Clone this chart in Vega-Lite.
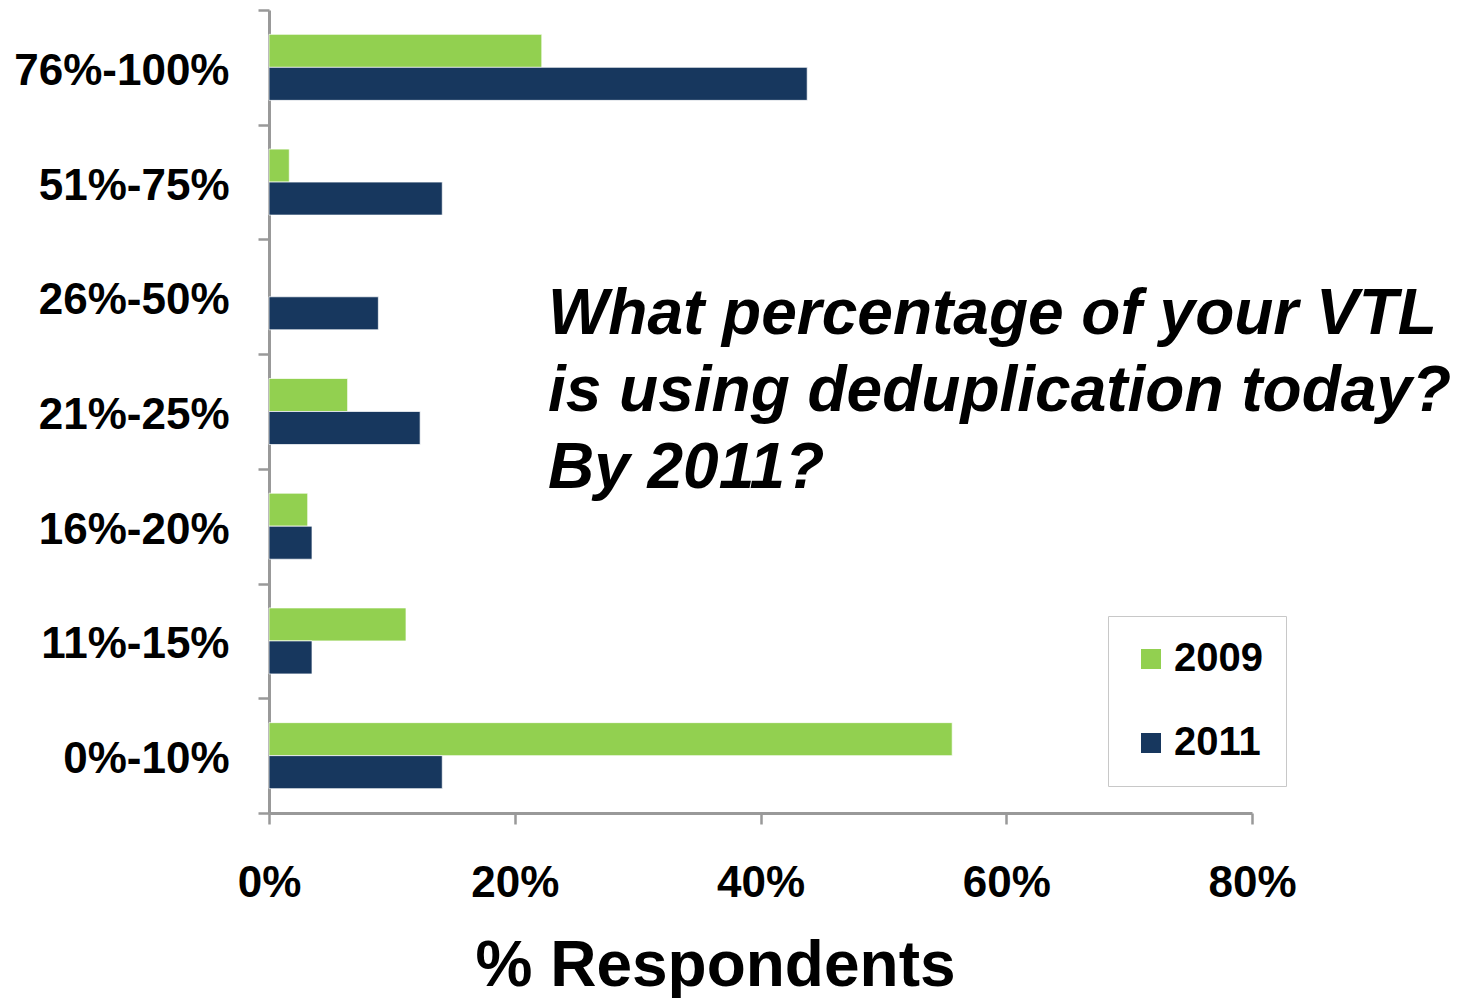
{
  "$schema": "https://vega.github.io/schema/vega-lite/v6.json",
  "width": 983,
  "height": 803,
  "autosize": "none",
  "padding": {"left": 269, "top": 10, "right": 215, "bottom": 185},
  "background": "white",
  "config": {
    "view": {"stroke": null},
    "font": "Liberation Sans",
    "axis": {
      "grid": false,
      "domainColor": "#999999",
      "domainWidth": 3,
      "tickColor": "#999999",
      "tickWidth": 2.5,
      "tickSize": 11,
      "labelFont": "Liberation Sans",
      "labelFontWeight": "bold",
      "labelFontSize": 44,
      "labelColor": "black",
      "labelLimit": 0,
      "titleFont": "Liberation Sans",
      "titleColor": "black"
    }
  },
  "data": {
    "values": [
      {"range": "76%-100%", "year": "2009", "pct": 22.2},
      {"range": "76%-100%", "year": "2011", "pct": 43.8},
      {"range": "51%-75%", "year": "2009", "pct": 1.65},
      {"range": "51%-75%", "year": "2011", "pct": 14.1},
      {"range": "26%-50%", "year": "2011", "pct": 8.9},
      {"range": "21%-25%", "year": "2009", "pct": 6.4},
      {"range": "21%-25%", "year": "2011", "pct": 12.3},
      {"range": "16%-20%", "year": "2009", "pct": 3.15},
      {"range": "16%-20%", "year": "2011", "pct": 3.5},
      {"range": "11%-15%", "year": "2009", "pct": 11.15},
      {"range": "11%-15%", "year": "2011", "pct": 3.5},
      {"range": "0%-10%", "year": "2009", "pct": 55.6},
      {"range": "0%-10%", "year": "2011", "pct": 14.1}
    ]
  },
  "layer": [
    {
      "mark": {"type": "bar", "stroke": "white", "strokeWidth": 1, "strokeOpacity": 0.7},
      "encoding": {
        "y": {
          "field": "range",
          "type": "nominal",
          "sort": ["76%-100%", "51%-75%", "26%-50%", "21%-25%", "16%-20%", "11%-15%", "0%-10%"],
          "scale": {"paddingInner": 0, "paddingOuter": 0},
          "axis": {
            "title": null,
            "tickBand": "extent",
            "labelPadding": 29,
            "labelBaseline": "middle",
            "labelOffset": 4
          }
        },
        "yOffset": {
          "field": "year",
          "type": "nominal",
          "scale": {"domain": ["2009", "2011"], "paddingInner": 0, "paddingOuter": 0.738}
        },
        "x": {
          "field": "pct",
          "type": "quantitative",
          "scale": {"domain": [0, 80], "nice": false},
          "axis": {
            "values": [0, 20, 40, 60, 80],
            "labelExpr": "datum.value + '%'",
            "labelPadding": 37,
            "labelBaseline": "top",
            "labelFlush": false,
            "title": "% Respondents",
            "titleFontSize": 64,
            "titleFontWeight": "bold",
            "titleX": 446,
            "titleY": 172,
            "titleAlign": "center",
            "titleBaseline": "alphabetic"
          }
        },
        "color": {
          "field": "year",
          "type": "nominal",
          "scale": {"domain": ["2009", "2011"], "range": ["#92D050", "#17375E"]},
          "legend": {
            "title": null,
            "orient": "none",
            "legendX": 839,
            "legendY": 606,
            "symbolType": "square",
            "symbolSize": 400,
            "symbolStrokeWidth": 0,
            "labelFont": "Liberation Sans",
            "labelFontWeight": "bold",
            "labelFontSize": 40,
            "labelColor": "black",
            "labelOffset": 3,
            "rowPadding": 44,
            "padding": 23,
            "strokeColor": "#c8c8c8",
            "fillColor": "white"
          }
        }
      }
    },
    {
      "data": {"values": [{"range": "21%-25%", "pct": 22.7}]},
      "mark": {
        "type": "text",
        "text": ["What percentage of your VTL", "is using deduplication today?", "By 2011?"],
        "align": "left",
        "baseline": "middle",
        "lineHeight": 77,
        "dy": -97,
        "font": "Liberation Sans",
        "fontSize": 64,
        "fontWeight": "bold",
        "fontStyle": "italic",
        "color": "black"
      },
      "encoding": {
        "x": {"field": "pct", "type": "quantitative"},
        "y": {
          "field": "range",
          "type": "nominal",
          "sort": ["76%-100%", "51%-75%", "26%-50%", "21%-25%", "16%-20%", "11%-15%", "0%-10%"]
        }
      }
    }
  ]
}
